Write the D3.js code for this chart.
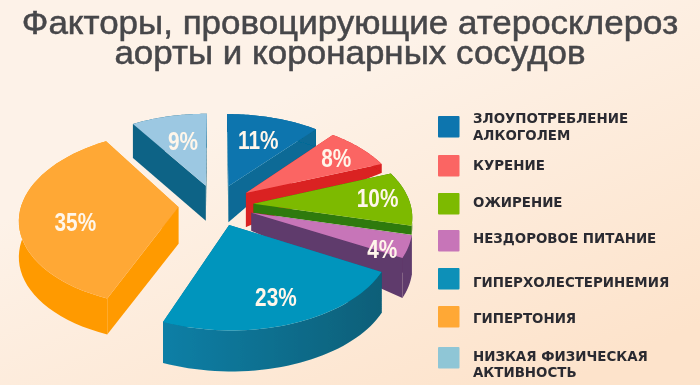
<!DOCTYPE html>
<html>
<head>
<meta charset="utf-8">
<script src="https://cdn.jsdelivr.net/npm/d3@7"></script>
<style>
  html, body { margin: 0; padding: 0; background: #fdf1e6; }
  svg { display: block; }
</style>
</head>
<body>
<script>
const titleLines = ["Факторы, провоцирующие атеросклероз", "аорты и коронарных сосудов"];

const categories = ["ЗЛОУПОТРЕБЛЕНИЕ|АЛКОГОЛЕМ", "КУРЕНИЕ", "ОЖИРЕНИЕ", "НЕЗДОРОВОЕ ПИТАНИЕ",
  "ГИПЕРХОЛЕСТЕРИНЕМИЯ", "ГИПЕРТОНИЯ", "НИЗКАЯ ФИЗИЧЕСКАЯ|АКТИВНОСТЬ"];
const values = [11, 8, 10, 4, 23, 35, 9];

const topColors = ["#0a74ae", "#fb6563", "#7dba00", "#c775b8", "#0295bd", "#ffa836", "#9cc8e2"];
const sideColors = ["#076a96", "#da2020", "#2f7a0a", "#5f3a6c", "url(#blueSide)", "#ff9a06", "#0f6486"];
const legendColors = ["#0a74ae", "#fb6563", "#7dba00", "#c775b8", "#0790b8", "#ffa836", "#8fc6d6"];

// hand drawn extrusion in the original: depth at the tip and at the rim of each slice
const depthTip = [36, 34, 9, 18, 40, 37, 35];
const depthRim = [18, 9, 9, 40, 41, 36, 34];
const labelRadius = [0.64, 0.78, 0.8, 0.84, 0.75, 0.65, 0.59];
const labelShift = [-1, 1, -1, 8, 1, 10, -2];

const legendRows = [127, 166, 204, 241, 279, 317, 358];
const legendText = [[118, 135], [165], [202], [238], [282], [318], [356, 372]];

const width = 700, height = 385;
const explode = 0.24, tilt = 0.13;

const svg = d3.select("body").append("svg")
    .attr("width", width)
    .attr("height", height);

const defs = svg.append("defs");
const bg = defs.append("linearGradient").attr("id", "bg")
    .attr("x1", 0).attr("y1", 0).attr("x2", 0.8).attr("y2", 1);
bg.append("stop").attr("offset", "35%").attr("stop-color", "#fdf2e8");
bg.append("stop").attr("offset", "100%").attr("stop-color", "#fde3cb");

const blueSide = defs.append("linearGradient").attr("id", "blueSide")
    .attr("x1", 0).attr("y1", 0).attr("x2", 1).attr("y2", 0);
blueSide.append("stop").attr("offset", "0%").attr("stop-color", "#0b7fa6");
blueSide.append("stop").attr("offset", "100%").attr("stop-color", "#085f78");

// the reference is a soft jpeg
defs.append("filter").attr("id", "soft")
    .attr("filterUnits", "userSpaceOnUse")
    .attr("x", 0).attr("y", 0)
    .attr("width", width).attr("height", height)
  .append("feGaussianBlur").attr("stdDeviation", 0.4);

svg.append("rect").attr("width", width).attr("height", height).attr("fill", "url(#bg)");

const chart = svg.append("g").attr("filter", "url(#soft)");

chart.append("g").selectAll("text")
  .data(titleLines)
  .join("text")
    .attr("transform", (d, i) => `translate(350,${i ? 64 : 34}) scale(1.06,1)`)
    .attr("text-anchor", "middle")
    .attr("font-family", "'Liberation Sans', Arial, sans-serif")
    .attr("font-size", 33)
    .attr("fill", "#46464a")
    .attr("stroke", "#46464a")
    .attr("stroke-width", 0.5)
    .text(d => d);

const arcs = d3.pie().sort(null)(values);

// ground plane -> screen, far side of the pie is smaller
const sx = d3.scaleLinear().domain([-1, 1]).range([216 - 157, 216 + 157]);
const sy = d3.scaleLinear().domain([-1, 1]).range([205 + 86, 205 - 86]);
const project = (u, v) => {
  const w = 1 + tilt * v;
  return [sx(u / w), sy(v / w)];
};

const slicePoint = (a, r, t) => {
  const mid = (a.startAngle + a.endAngle) / 2;
  return project(
    explode * Math.sin(mid) + r * Math.sin(t),
    explode * Math.cos(mid) + r * Math.cos(t));
};

const line = d3.line();
const lowered = (p, dy) => [p[0], p[1] + dy];

const pie = chart.append("g");

// back slices first, big front ones on top
const drawOrder = [1, 2, 3, 4, 6, 5, 0];

arcs.map((a, i) => ({a, i}))
  .sort((p, q) => drawOrder[p.i] - drawOrder[q.i])
  .forEach(({a, i}) => {
    const rim = d3.range(0, 41).map(k => a.startAngle + (a.endAngle - a.startAngle) * k / 40);
    const rimPts = rim.map(t => slicePoint(a, 1, t));
    const tip = slicePoint(a, 0, 0);
    const g = pie.append("g");

    const faces = [
      [tip, rimPts[0], lowered(rimPts[0], depthRim[i]), lowered(tip, depthTip[i])],
      [tip, rimPts[40], lowered(rimPts[40], depthRim[i]), lowered(tip, depthTip[i])],
      rimPts.concat(rimPts.slice().reverse().map(p => lowered(p, depthRim[i])))
    ];
    g.selectAll("path.side")
      .data(faces)
      .join("path")
        .attr("class", "side")
        .attr("d", d => line(d) + "Z")
        .attr("fill", sideColors[i]);

    g.append("path")
        .attr("d", line([tip].concat(rimPts)) + "Z")
        .attr("fill", topColors[i]);
  });

chart.append("g").selectAll("text")
  .data(arcs)
  .join("text")
    .attr("transform", (a, i) => {
      const p = slicePoint(a, labelRadius[i], (a.startAngle + a.endAngle) / 2);
      return `translate(${p[0]},${p[1] + 9 + labelShift[i]}) scale(0.8,1)`;
    })
    .attr("text-anchor", "middle")
    .attr("font-family", "'Liberation Sans', Arial, sans-serif")
    .attr("font-weight", "bold")
    .attr("font-size", 26)
    .attr("fill", "#fff6ea")
    .text(a => a.data + "%");

const legend = chart.append("g");

legend.selectAll("rect")
  .data(categories)
  .join("rect")
    .attr("x", 438)
    .attr("y", (d, i) => legendRows[i] - 11)
    .attr("width", 21.5)
    .attr("height", 21.5)
    .attr("rx", 1)
    .attr("fill", (d, i) => legendColors[i]);

categories.forEach((c, i) => {
  c.split("|").forEach((s, j) => {
    legend.append("text")
        .attr("x", 473)
        .attr("y", legendText[i][j] + 4.5)
        .attr("font-family", "'DejaVu Sans', sans-serif")
        .attr("font-weight", "bold")
        .attr("font-size", 13.4)
        .attr("fill", "#2b2b30")
        .text(s);
  });
});
</script>
</body>
</html>
